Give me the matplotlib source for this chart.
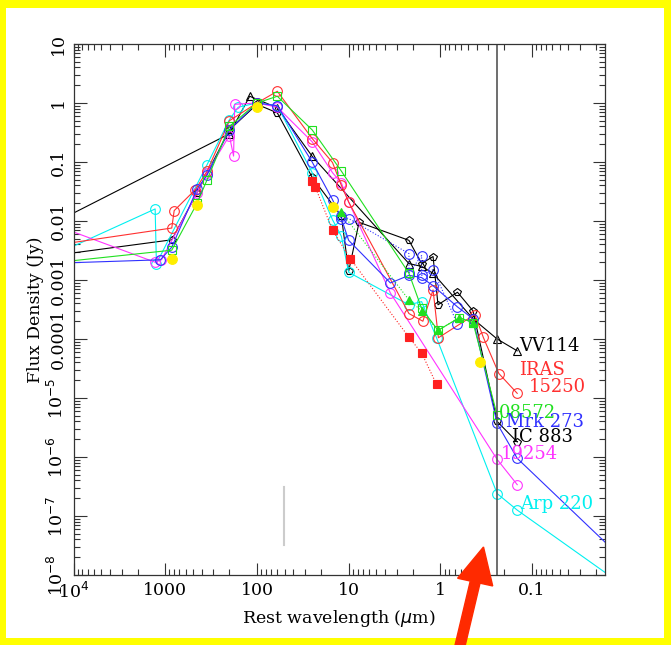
import numpy as np
import matplotlib.pyplot as plt
from matplotlib.patches import Rectangle, FancyArrow
from matplotlib.ticker import LogLocator, FixedLocator, NullFormatter

plt.rcParams['font.family'] = 'DejaVu Serif'

# rest wavelength (micron) and flux density (Jy)
vv114_wl = [20000, 200, 120, 60, 25, 2.2, 1.6, 1.2, 0.44, 0.24, 0.145]
vv114_fl = [0.0079, 0.30, 1.3, 0.83, 0.125, 0.0019, 0.0017, 0.0013, 2.2e-4, 1.0e-4, 6.3e-5]

ic883_wl = [20000, 850, 450, 200, 100, 60, 25, 12, 10, 7.7, 2.2, 1.6, 1.2, 1.06, 0.65, 0.44, 0.24, 0.145]
ic883_fl = [0.0025, 0.0048, 0.03, 0.35, 0.95, 0.68, 0.055, 0.012, 0.0014, 0.0095,
            0.0047, 0.0019, 0.0025, 3.8e-4, 6.2e-4, 3.0e-4, 4.0e-6, 1.8e-6]

arp220_wl = [20000, 1290, 1250, 350, 200, 160, 100, 60, 25, 15, 12, 10, 2.2, 1.6, 1.1, 0.24, 0.145, 0.01]
arp220_fl = [0.0023, 0.016, 0.0019, 0.09, 0.52, 0.85, 1.0, 0.9, 0.066, 0.0105, 0.0055, 0.00135,
             3.8e-4, 4.3e-4, 1.05e-4, 2.4e-7, 1.26e-7, 6.6e-9]

i19254_wl = [20000, 1290, 1100, 450, 350, 200, 180, 175, 100, 60, 25, 15, 12, 10, 3.5, 0.24, 0.145]
i19254_fl = [0.0097, 0.0020, 0.0022, 0.03, 0.066, 0.28, 0.126, 0.95, 1.0, 0.85, 0.22, 0.066, 0.044,
             0.021, 6e-4, 9.1e-7, 3.4e-7]

i15250_wl = [20000, 850, 800, 470, 350, 200, 100, 60, 25, 15, 12, 10, 2.2, 1.55, 1.2, 1.05, 0.42, 0.34, 0.23, 0.145]
i15250_fl = [0.0037, 0.0076, 0.015, 0.034, 0.07, 0.5, 1.0, 1.58, 0.25, 0.098, 0.04, 0.021,
             2.7e-4, 2.0e-4, 6.8e-4, 1.05e-4, 2.6e-4, 1.07e-4, 2.6e-5, 1.2e-5]

mrk273_wl = [20000, 1130, 850, 450, 350, 200, 100, 60, 25, 15, 12, 10, 3.5, 2.2, 1.6, 1.2, 0.65, 0.44, 0.24, 0.145, 0.01]
mrk273_fl = [0.0019, 0.0022, 0.0036, 0.035, 0.06, 0.35, 1.0, 0.9, 0.1, 0.023, 0.011, 0.0047,
             8.9e-4, 0.0012, 0.0011, 8e-4, 3.5e-4, 2.2e-4, 3.7e-6, 9.5e-7, 1.8e-8]
# second set of near-IR apertures for Mrk 273 (dotted)
mrk273b_wl = [12, 10, 2.2, 2.2, 1.6, 1.6, 1.2, 0.65]
mrk273b_fl = [0.012, 0.011, 0.0028, 0.0013, 0.0026, 0.0012, 0.0015, 1.8e-4]

i08572_wl = [20000, 850, 450, 350, 200, 100, 60, 25, 12, 2.2, 1.6, 1.06, 0.62, 0.44, 0.24]
i08572_fl = [0.0019, 0.0032, 0.02, 0.05, 0.4, 1.0, 1.3, 0.35, 0.07, 0.0013, 3.3e-4, 1.4e-4,
             2.3e-4, 1.9e-4, 5.1e-6]
# filled-triangle points for 08572 (dotted)
i08572b_wl = [12, 2.2, 1.6, 1.06, 0.62, 0.44]
i08572b_fl = [0.014, 4.6e-4, 3.0e-4, 1.4e-4, 2.3e-4, 1.9e-4]

redsq_wl = [25, 23, 15, 9.6, 2.2, 1.6, 1.1]
redsq_fl = [0.048, 0.037, 0.007, 0.0023, 1.07e-4, 5.8e-5, 1.7e-5]

yel_wl = [850, 450, 100, 15, 0.37]
yel_fl = [0.0023, 0.019, 0.85, 0.017, 4.1e-5]

series = [
    (vv114_wl, vv114_fl, 'black', '^', 'none', '-'),
    (ic883_wl, ic883_fl, 'black', 'p', 'none', '-'),
    (arp220_wl, arp220_fl, '#00f0f0', 'o', 'none', '-'),
    (i19254_wl, i19254_fl, '#ff33ff', 'o', 'none', '-'),
    (i15250_wl, i15250_fl, '#ff3030', 'o', 'none', '-'),
    (mrk273b_wl, mrk273b_fl, '#3030ff', 'o', 'none', ':'),
    (mrk273_wl, mrk273_fl, '#3030ff', 'o', 'none', '-'),
    (i08572_wl, i08572_fl, '#20e020', 's', 'none', '-'),
    (i08572b_wl, i08572b_fl, '#20e020', '^', '#20e020', ':'),
    (redsq_wl, redsq_fl, '#ff2020', 's', '#ff2020', ':'),
    (yel_wl, yel_fl, '#ffee00', 'o', '#ffee00', 'none'),
]

labels = [
    ('VV114', 0.139, 7.6e-5, 'black'),
    ('IRAS', 0.139, 2.95e-5, '#ff3030'),
    ('15250', 0.108, 1.55e-5, '#ff3030'),
    ('08572', 0.230, 5.6e-6, '#20e020'),
    ('Mrk 273', 0.193, 3.9e-6, '#3030ff'),
    ('IC 883', 0.166, 2.2e-6, 'black'),
    ('19254', 0.218, 1.12e-6, '#ff33ff'),
    ('Arp 220', 0.135, 1.6e-7, '#00f0f0'),
]

xticks = [1e4, 1000, 100, 10, 1, 0.1]
xlabels = ['10$^4$', '1000', '100', '10', '1', '0.1']
yticks = [10, 1, 0.1, 0.01, 0.001, 1e-4, 1e-5, 1e-6, 1e-7, 1e-8]
ylabels = ['10', '1', '0.1', '0.01', '0.001', '0.0001', '10$^{-5}$', '10$^{-6}$', '10$^{-7}$', '10$^{-8}$']

fig = plt.figure(figsize=(6.71, 6.45), dpi=100)
fig.patch.set_facecolor('#ffff00')
fig.add_artist(Rectangle((6 / 671, 1 - 638 / 645), 658 / 671, 630 / 645,
                         transform=fig.transFigure, facecolor='white', edgecolor='none', zorder=0))

ax = fig.add_axes([0.1097, 0.1085, 0.7919, 0.8233])
ax.set_facecolor('white')

for wl, fl, col, mk, mfc, ls in series:
    ax.plot(wl, fl, color=col, ls=ls, lw=0.8, marker=mk, mfc=mfc, mec=col,
            ms=7 if mk == 'o' else 6, mew=0.8)

ax.axvline(0.24, color='#555555', lw=1.2)
ax.plot([51, 51], [3.2e-8, 3.1e-7], color='#cccccc', lw=1.5)

for txt, x, y, col in labels:
    ax.text(x, y, txt, color=col, fontsize=13, va='center', ha='left')

ax.set_xscale('log')
ax.set_yscale('log')
ax.set_xlim(1e4, 0.016)
ax.set_ylim(1e-8, 10)

ax.xaxis.set_major_locator(FixedLocator(xticks))
ax.set_xticklabels(xlabels, fontsize=12.5)
ax.xaxis.set_minor_locator(LogLocator(base=10, subs=np.arange(2, 10)))
ax.xaxis.set_minor_formatter(NullFormatter())
ax.yaxis.set_major_locator(FixedLocator(yticks))
ax.set_yticklabels(ylabels, fontsize=12.5, rotation=90, va='center')
ax.yaxis.set_minor_locator(LogLocator(base=10, subs=np.arange(2, 10), numticks=20))
ax.yaxis.set_minor_formatter(NullFormatter())

ax.tick_params(which='both', direction='in', top=True, right=True, color='#333333')
ax.tick_params(which='major', length=9, width=0.8, pad=5)
ax.tick_params(which='minor', length=4.5, width=0.8)
for s in ax.spines.values():
    s.set_color('#333333')
    s.set_linewidth(0.9)

ax.set_xlabel('Rest wavelength ($\\mu$m)', fontsize=12.5, labelpad=4)
ax.set_ylabel('Flux Density (Jy)', fontsize=12.5, labelpad=2)

# red arrow pointing at the UV line
fig.add_artist(FancyArrow(459 / 671, 1 - 650 / 645, 24.5 / 671, -(547 - 650) / 645,
                          width=10 / 671, head_width=36 / 671, head_length=36 / 645,
                          length_includes_head=True, transform=fig.transFigure,
                          color='#ff2a00', zorder=10))

fig.savefig('out.png', dpi=100, facecolor=fig.get_facecolor())
